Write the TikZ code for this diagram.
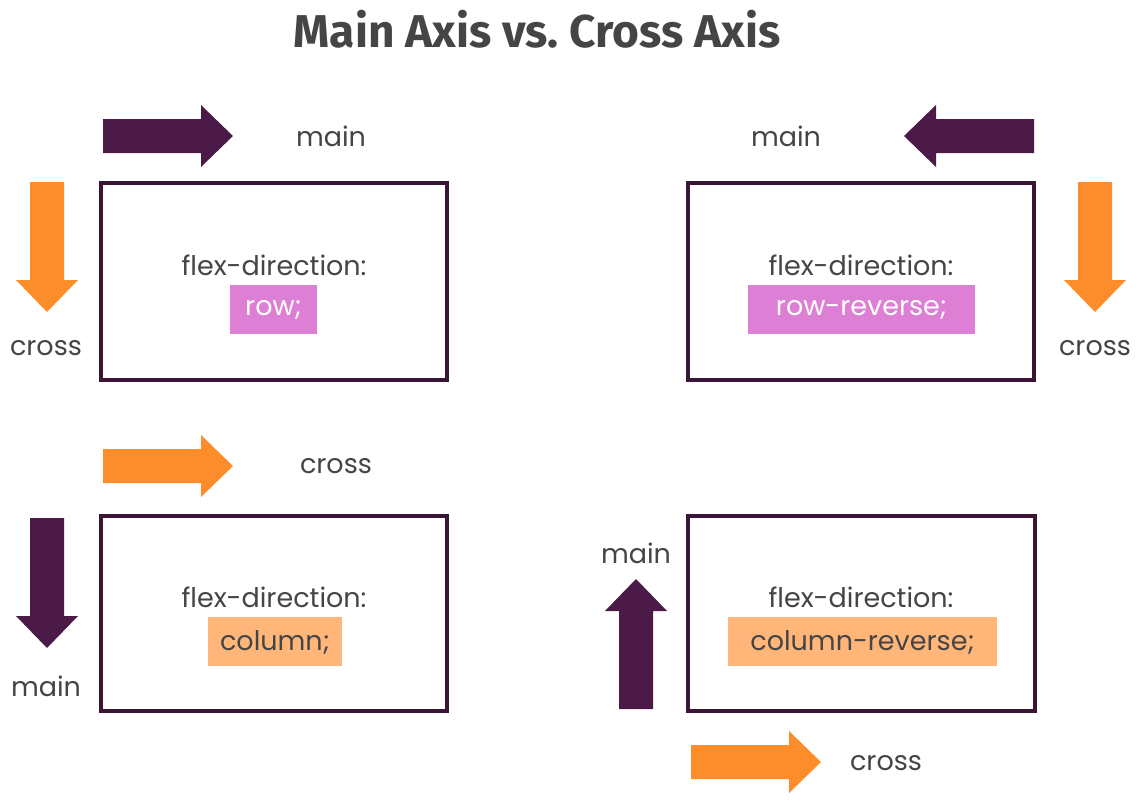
\documentclass[tikz,border=0pt]{standalone}
\usepackage{fontspec}
\setmainfont{Poppins}
\newfontfamily\titlefont{Fira Sans}
\definecolor{plum}{HTML}{4B1A47}
\definecolor{boxline}{HTML}{3A1535}
\definecolor{orng}{HTML}{FC8D2A}
\definecolor{pinkhl}{HTML}{DE7FD6}
\definecolor{orghl}{HTML}{FFB678}
\definecolor{txt}{HTML}{454545}
\tikzset{
  pics/bigarrow/.style={code={
    \fill (0,-17) -- (98,-17) -- (98,-31) -- (130,0) -- (98,31) -- (98,17) -- (0,17) -- cycle;
  }},
  lbl/.style={text=txt, font=\fontsize{27}{32}\selectfont, inner sep=0pt},
  flexbox/.style={draw=boxline, line width=4pt, fill=white},
}
\begin{document}
\begin{tikzpicture}[x=1pt,y=-1pt]
\useasboundingbox (0,0) rectangle (1146,811);
\fill[white] (0,0) rectangle (1146,811);
\node[text=txt, font=\titlefont\bfseries\fontsize{46}{52}\selectfont, anchor=base] (title) at (537,47) {Main Axis vs.\ Cross Axis};

% box 1 row
\draw[flexbox] (101,183) rectangle (447,380);
\node[lbl] (fd1) at (274,265) {flex-direction:};
\fill[pinkhl] (230,285) rectangle (317,334);
\node[lbl, text=white] (v1) at (273.5,310) {row;};
\pic[plum] at (103,136) {bigarrow};
\node[lbl] (m1) at (331,136) {main};
\pic[orng, rotate=-90] at (47,182) {bigarrow};
\node[lbl] (c1) at (46,348) {cross};

% box 2 row-reverse
\draw[flexbox] (688,183) rectangle (1034,380);
\node[lbl] (fd2) at (861,265) {flex-direction:};
\fill[pinkhl] (748,285) rectangle (975,334);
\node[lbl, text=white] (v2) at (861.5,310) {row-reverse;};
\pic[plum, rotate=180] at (1034,136) {bigarrow};
\node[lbl] (m2) at (786,136) {main};
\pic[orng, rotate=-90] at (1095,182) {bigarrow};
\node[lbl] (c2) at (1095,348) {cross};

% box 3 column
\draw[flexbox] (101,516) rectangle (447,711);
\node[lbl] (fd3) at (274,597) {flex-direction:};
\fill[orghl] (208,617) rectangle (342,666);
\node[lbl] (v3) at (275,642) {column;};
\pic[orng] at (103,466) {bigarrow};
\node[lbl] (c3) at (336,466) {cross};
\pic[plum, rotate=-90] at (47,518) {bigarrow};
\node[lbl] (m3) at (46,686) {main};

% box 4 column-reverse
\draw[flexbox] (688,516) rectangle (1035,711);
\node[lbl] (fd4) at (861,597) {flex-direction:};
\fill[orghl] (728,617) rectangle (997,666);
\node[lbl] (v4) at (862.5,642) {column-reverse;};
\pic[plum, rotate=90] at (636,709) {bigarrow};
\node[lbl] (m4) at (636,553) {main};
\pic[orng] at (691,762) {bigarrow};
\node[lbl] (c4) at (886,763) {cross};
\end{tikzpicture}
\end{document}
